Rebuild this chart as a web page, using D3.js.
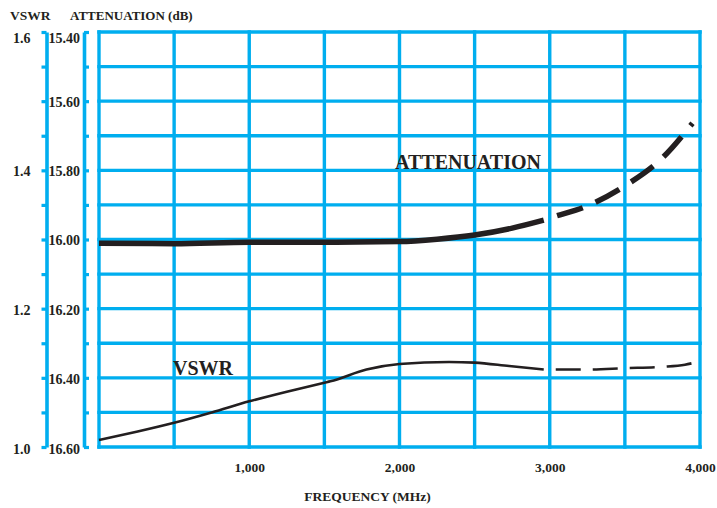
<!DOCTYPE html>
<html>
<head>
<meta charset="utf-8">
<script src="https://cdn.jsdelivr.net/npm/d3@7"></script>
<style>
  html, body { margin: 0; padding: 0; background: #fff; }
  svg { display: block; }
  text { font-family: "Liberation Serif", "Times New Roman", serif; font-weight: bold; fill: #231f20; }
</style>
</head>
<body>
<svg id="chart" width="717" height="508"></svg>
<script>
// ---- data ----
const xTickValues = [1000, 2000, 3000, 4000];
const attTickValues = [15.4, 15.5, 15.6, 15.7, 15.8, 15.9, 16.0, 16.1, 16.2, 16.3, 16.4, 16.5, 16.6];
const attLabelValues = [15.4, 15.6, 15.8, 16.0, 16.2, 16.4, 16.6];
const vswrTickValues = [1.0, 1.05, 1.1, 1.15, 1.2, 1.25, 1.3, 1.35, 1.4, 1.45, 1.5, 1.55, 1.6];
const vswrLabelValues = [1.0, 1.2, 1.4, 1.6];
const freqGrid = [0, 500, 1000, 1500, 2000, 2500, 3000, 3500, 4000];

const attFreq = [0, 500, 1000, 1500, 2000, 2250, 2500, 2750, 2960, 3000, 3250, 3500, 3750, 3950];
const attVal  = [16.011, 16.012, 16.008, 16.008, 16.006, 15.999, 15.987, 15.967, 15.944, 15.938, 15.903, 15.845, 15.764, 15.664];
const attSolidEnd = 2960;

const vswrFreq = [0, 250, 500, 750, 1000, 1250, 1500, 1540, 1780, 2000, 2330, 2500, 2730, 2960, 3250, 3500, 3750, 3900, 3945];
const vswrVal  = [1.010, 1.022, 1.035, 1.050, 1.066, 1.080, 1.093, 1.095, 1.112, 1.120, 1.123, 1.122, 1.117, 1.112, 1.112, 1.114, 1.116, 1.119, 1.121];
const vswrSolidEnd = 2960;

// ---- layout ----
const cyan = "#00aeef";
const ink = "#231f20";
const plot = { left: 99, right: 700, top: 32, bottom: 447 };

const svg = d3.select("#chart");

const x = d3.scaleLinear().domain([0, 4000]).range([plot.left, plot.right]);
const yA = d3.scaleLinear().domain([15.4, 16.6]).range([plot.top, plot.bottom]);
const yV = d3.scaleLinear().domain([1.6, 1.0]).range([plot.top, plot.bottom]);

// ---- grid ----
const grid = svg.append("g").attr("stroke", cyan).attr("stroke-width", 3.4).attr("stroke-linecap", "square");
grid.selectAll("line.v").data(freqGrid).join("line")
  .attr("x1", d => x(d)).attr("x2", d => x(d))
  .attr("y1", plot.top).attr("y2", plot.bottom);
grid.selectAll("line.h").data(attTickValues).join("line")
  .attr("x1", plot.left).attr("x2", plot.right)
  .attr("y1", d => yA(d)).attr("y2", d => yA(d));

// ---- left axes ----
function styleAxis(g) {
  g.select(".domain").attr("stroke", cyan).attr("stroke-width", 3.6);
  g.selectAll(".tick line").attr("stroke", cyan).attr("stroke-width", 3.2);
  g.selectAll(".tick text").attr("fill", ink)
    .style("font-family", '"Liberation Serif", "Times New Roman", serif')
    .style("font-weight", "bold").style("font-size", "14px");
}

const vAxis = d3.axisLeft(yV).tickValues(vswrTickValues)
  .tickFormat(d => vswrLabelValues.some(v => Math.abs(v - d) < 1e-6) ? d3.format(".1f")(d) : "")
  .tickSize(5).tickSizeOuter(0).tickPadding(11);
const gV = svg.append("g").attr("transform", "translate(46.5,0)").call(vAxis);
gV.attr("font-family", null).attr("font-size", null);
styleAxis(gV);

const aAxis = d3.axisLeft(yA).tickValues(attTickValues)
  .tickFormat(d => attLabelValues.some(v => Math.abs(v - d) < 1e-6) ? d3.format(".2f")(d) : "")
  .tickSize(-5).tickSizeOuter(0).tickPadding(4);
const gA = svg.append("g").attr("transform", "translate(84,0)").call(aAxis);
gA.attr("font-family", null).attr("font-size", null);
styleAxis(gA);

// nudge label vertical positions like the reference
[gV, gA].forEach(g => {
  g.selectAll(".tick text").attr("y", (d) => {
    if (Math.abs(d - 1.6) < 1e-6 || Math.abs(d - 15.4) < 1e-6) return 6;
    if (Math.abs(d - 1.0) < 1e-6 || Math.abs(d - 16.6) < 1e-6) return 2.5;
    return 1;
  });
});

// ---- x axis labels ----
const xAxis = d3.axisBottom(x).tickValues(xTickValues).tickFormat(d3.format(",")).tickSize(0).tickPadding(15);
const gX = svg.append("g").attr("transform", `translate(0,${plot.bottom})`).call(xAxis);
gX.attr("font-family", null).attr("font-size", null);
gX.select(".domain").remove();
gX.selectAll(".tick text").attr("fill", ink).style("font-size", "13.5px");

// ---- titles ----
svg.append("text").attr("x", 10).attr("y", 20).style("font-size", "13.5px").text("VSWR");
svg.append("text").attr("x", 70).attr("y", 20).style("font-size", "13px").text("ATTENUATION (dB)");
svg.append("text").attr("x", 367.5).attr("y", 501).attr("text-anchor", "middle").style("font-size", "13.5px").text("FREQUENCY (MHz)");

// ---- curves ----
const attData = attFreq.map((f, i) => ({ f, v: attVal[i] }));
const vswrData = vswrFreq.map((f, i) => ({ f, v: vswrVal[i] }));

const lineA = d3.line().x(d => x(d.f)).y(d => yA(d.v)).curve(d3.curveMonotoneX);
const lineV = d3.line().x(d => x(d.f)).y(d => yV(d.v)).curve(d3.curveMonotoneX);

svg.append("path").datum(attData.filter(d => d.f <= attSolidEnd))
  .attr("d", lineA).attr("fill", "none").attr("stroke", ink).attr("stroke-width", 5.5);
svg.append("path").datum(attData.filter(d => d.f >= attSolidEnd))
  .attr("d", lineA).attr("fill", "none").attr("stroke", ink).attr("stroke-width", 5.5)
  .attr("stroke-dasharray", "27,14").attr("stroke-dashoffset", 27);

svg.append("path").datum(vswrData.filter(d => d.f <= vswrSolidEnd))
  .attr("d", lineV).attr("fill", "none").attr("stroke", ink).attr("stroke-width", 2.6);
svg.append("path").datum(vswrData.filter(d => d.f >= vswrSolidEnd))
  .attr("d", lineV).attr("fill", "none").attr("stroke", ink).attr("stroke-width", 2.6)
  .attr("stroke-dasharray", "25,12").attr("stroke-dashoffset", 25);

// ---- in-plot labels ----
svg.append("text").attr("x", 395).attr("y", 168.5).style("font-size", "20px").text("ATTENUATION");
svg.append("text").attr("x", 173).attr("y", 374.5).style("font-size", "20px").text("VSWR");
</script>
</body>
</html>
